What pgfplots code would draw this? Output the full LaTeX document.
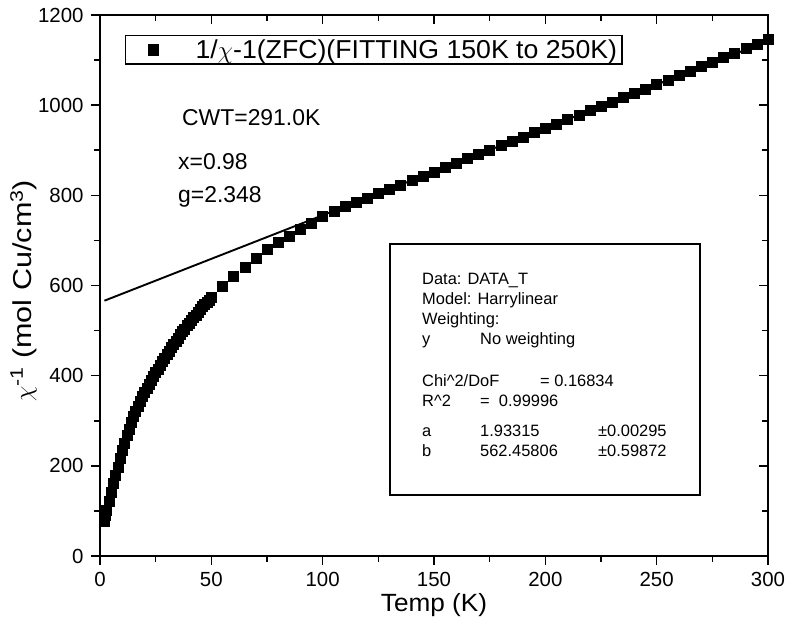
\documentclass[border=0pt]{standalone}
\usepackage{fontspec}
\setmainfont{Liberation Sans}
\usepackage{pgfplots}
\pgfplotsset{compat=1.18}
\begin{document}
\begin{tikzpicture}
\path[use as bounding box] (-100bp,-71bp) rectangle (691bp,556bp);
% top/right ticks pointing inward
\begin{axis}[
  at={(0,0)}, anchor=south west,
  scale only axis, width=668bp, height=541bp,
  xmin=0, xmax=300, ymin=0, ymax=1200,
  xtick={0,50,...,300}, ytick={0,200,...,1200},
  minor x tick num=1, minor y tick num=1,
  tick align=inside, xtick pos=right, ytick pos=right,
  major tick length=9bp, minor tick length=6bp,
  axis line style={line width=1.6bp},
  tick style={line width=1.6bp, black},
  xticklabels={}, yticklabels={},
]
\end{axis}
\begin{axis}[
  at={(0,0)}, anchor=south west,
  scale only axis, width=668bp, height=541bp,
  xmin=0, xmax=300, ymin=0, ymax=1200,
  xtick={0,50,...,300}, ytick={0,200,...,1200},
  minor x tick num=1, minor y tick num=1,
  tick align=outside, xtick pos=left, ytick pos=left,
  major tick length=9bp, minor tick length=6bp,
  axis line style={line width=1.6bp},
  tick style={line width=1.6bp, black},
  /pgf/number format/assume math mode=true,
  /pgf/number format/set thousands separator={},
  scaled ticks=false,
  ticklabel style={font=\fontsize{20.5}{24}\selectfont},
  xticklabel style={yshift=-4bp},
  yticklabel style={xshift=-4bp},
  xlabel={Temp (K)},
  ylabel={$\chi$\textsuperscript{-1} (mol Cu/cm\textsuperscript{3})},
  xlabel style={at={(axis description cs:0.5,-0.09)}, anchor=center, font=\fontsize{25}{30}\selectfont\addfontfeatures{FakeStretch=1.05}},
  ylabel style={at={(axis description cs:-0.114,0.49)}, anchor=center, font=\fontsize{26}{30}\selectfont\addfontfeatures{FakeStretch=1.18}},
  clip=false,
  legend style={at={(axis description cs:0.0374,0.963)}, anchor=north west,
    draw=black, line width=1.4bp, font=\fontsize{26}{30}\selectfont\addfontfeatures{FakeStretch=1.03},
    /tikz/every odd column/.append style={column sep=15bp}},
  legend cell align=left,
]
\addplot[only marks, mark=square*, mark size=5bp, black,
  legend image code/.code={\path[draw=none,fill=none] (0bp,0bp) -- (50bp,0bp); \draw[black,only marks,mark=square*,mark size=5bp] plot coordinates {(25bp,0bp)};}] coordinates {
(2,77)(2.5,90)(3,102)(4,122)(5,142)(6,161)(7,180)(8,198)(9,216)(10,234)
(11,251)(12,267)(13,282)(14,296)(15,309)(16,321)(17,333)(18,344)(19,354)(20,364)
(21,373)(22,382)(23,390)(24,399)(25,407)(26,415)(27,423)(28,431)(29,439)(30,447)
(31,455)(32,463)(33,470)(34,477)(35,484)(36,491)(37,498)(38,504)(39,511)(40,517)
(41,523)(42,529)(43,535)(44,541)(45,547)(46,553)(47,558)(48,563)(49,568)(50,573)
(55,599)(60,620)(65,641)(70,661)(75,680)(80,695)(85,710)(90,724)(95,738)(100,753)
(105,765.4)(110,775.1)(115,784.8)(120,794.4)(125,804.1)(130,813.8)(135,823.4)(140,833.1)
(145,842.8)(150,852.4)(155,862.1)(160,871.8)(165,881.4)(170,891.1)(175,900.8)(180,910.4)
(185,920.1)(190,929.8)(195,939.4)(200,949.1)(205,958.8)(210,968.4)(215,978.1)(220,987.8)
(225,997.4)(230,1007.1)(235,1016.8)(240,1026.4)(245,1036.1)(250,1045.8)(255,1055.6)
(260,1065.5)(265,1075.5)(270,1085.5)(275,1095.5)(280,1105.5)(285,1115.5)(290,1125.5)
(295,1135.5)(300,1145.5)
};
\addlegendentry{1/$\chi$-1(ZFC)(FITTING 150K to 250K)}
\addplot[black, line width=1.9bp, forget plot] coordinates {(2,566.3)(300,1142.4)};
\end{axis}
\node[anchor=base west, inner sep=0, font=\fontsize{23}{27}\selectfont] at (82bp,430bp) {CWT=291.0K};
\node[anchor=base west, inner sep=0, font=\fontsize{23}{27}\selectfont] at (78bp,386bp) {x=0.98};
\node[anchor=base west, inner sep=0, font=\fontsize{23}{27}\selectfont] at (78bp,353bp) {g=2.348};
\draw[line width=1.3bp] (290bp,312bp) rectangle (600bp,61bp);
\begin{scope}[every node/.style={anchor=base west, inner sep=0, font=\fontsize{16.5}{20}\selectfont}]
\node at (322bp,271bp) {Data: DATA\_T};
\node at (322bp,251bp) {Model: Harrylinear};
\node at (322bp,231bp) {Weighting:};
\node at (322bp,211bp) {y};
\node at (380bp,211bp) {No weighting};
\node at (322bp,169.3bp) {Chi\textasciicircum 2/DoF};
\node at (440bp,169.3bp) {= 0.16834};
\node at (322bp,149.3bp) {R\textasciicircum 2};
\node at (380bp,149.3bp) {=\ \ 0.99996};
\node at (322bp,119.3bp) {a};
\node at (380bp,119.3bp) {1.93315};
\node at (498bp,119.3bp) {±0.00295};
\node at (322bp,99.3bp) {b};
\node at (380bp,99.3bp) {562.45806};
\node at (498bp,99.3bp) {±0.59872};
\end{scope}
\end{tikzpicture}
\end{document}
